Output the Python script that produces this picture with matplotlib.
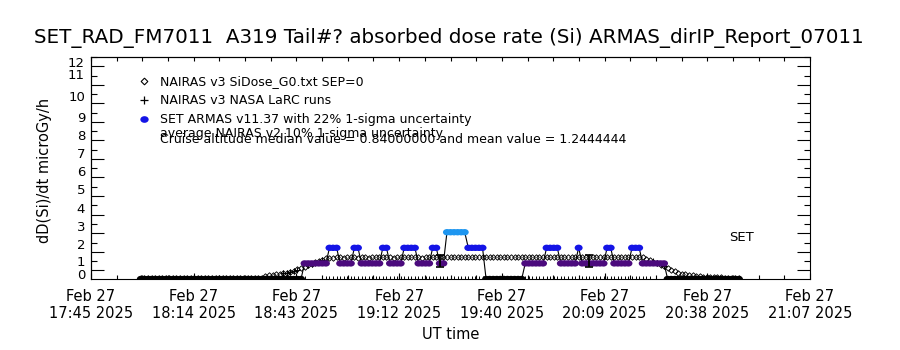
import numpy as np
import pandas as pd
import matplotlib
matplotlib.use("Agg")
import matplotlib.pyplot as plt
import matplotlib.dates as mdates
from matplotlib.path import Path
from matplotlib.transforms import Affine2D
from matplotlib.lines import Line2D
from matplotlib.ticker import NullFormatter

# ---------------- data ----------------
start_time = "2025-02-27 17:59"          # first 1-minute sample

# SET ARMAS dose rate, one value per minute
armas_dose = ([0.0] * 46 + [0.84] * 7 + [1.68] * 3 + [0.84] * 4 + [1.68] * 2 +
              [0.84] * 6 + [1.68] * 2 + [0.84] * 4 + [1.68] * 4 + [0.84] * 4 +
              [1.68] * 2 + [0.84] * 2 + [2.52] * 6 + [1.68] * 5 + [0.0] * 11 +
              [0.84] * 6 + [1.68] * 4 + [0.84] * 5 + [1.68] * 1 + [0.84] * 7 +
              [1.68] * 2 + [0.84] * 5 + [1.68] * 3 + [0.84] * 7 + [0.0] * 21)

# NAIRAS v3 SiDose_G0 model, one value per minute
nairas_dose = ([0.03] * 34 +
               [0.08, 0.14, 0.2, 0.23, 0.26, 0.28, 0.3, 0.34, 0.38, 0.45,
                0.52, 0.6, 0.67, 0.74, 0.82, 0.89, 0.97, 1.05, 1.12, 1.15] +
               [1.15, 1.16, 1.16, 1.15, 1.16, 1.16, 1.16, 1.15, 1.16, 1.16, 1.15, 1.16] +
               [1.16, 1.16, 1.17, 1.16, 1.16, 1.15, 1.16, 1.16, 1.16, 1.17,
                1.16, 1.16, 1.16, 1.15, 1.16, 1.16, 1.17, 1.16, 1.16, 1.16] +
               [1.17, 1.17, 1.18, 1.17, 1.18, 1.18, 1.17, 1.18, 1.18, 1.18,
                1.19, 1.18, 1.18, 1.19, 1.18, 1.19, 1.19, 1.18, 1.19, 1.19] +
               [1.19, 1.19, 1.2, 1.19, 1.2, 1.19, 1.2, 1.2, 1.19, 1.2,
                1.2, 1.2, 1.19, 1.2, 1.2, 1.2, 1.21, 1.2, 1.2, 1.2] +
               [1.2, 1.21, 1.2, 1.21, 1.21, 1.2, 1.21, 1.21, 1.21, 1.2,
                1.21, 1.21, 1.21, 1.2, 1.2, 1.18] +
               [1.1, 1.0, 0.93, 0.86, 0.78, 0.68, 0.58, 0.49, 0.41, 0.35,
                0.29, 0.25, 0.21, 0.19, 0.17, 0.15, 0.13, 0.12, 0.11, 0.1,
                0.09, 0.09, 0.08, 0.08, 0.07, 0.07, 0.06])

# NAIRAS v3 NASA LaRC runs, one value per minute
larc_dose = ([0.0] * 40 + [0.3, 0.34, 0.38, 0.45, 0.5] + [0.0] * 2 +
             [0.74, 0.8, 0.87, 0.93, 1.0] + [0.0] * 92 +
             [0.95, 0.88, 0.8, 0.72] + [0.0] * 21)

# average NAIRAS v2 uncertainty bars
errbar_times = ["2025-02-27 19:23", "2025-02-27 20:05"]
errbar_value = [0.96, 0.96]
errbar_sigma = [0.34, 0.34]

x_tick_times = ["2025-02-27 17:45:00", "2025-02-27 18:13:51", "2025-02-27 18:42:43",
                "2025-02-27 19:11:34", "2025-02-27 19:40:26", "2025-02-27 20:09:17",
                "2025-02-27 20:38:09", "2025-02-27 21:07:00"]
x_tick_labels = ["Feb 27\n17:45 2025", "Feb 27\n18:14 2025", "Feb 27\n18:43 2025",
                 "Feb 27\n19:12 2025", "Feb 27\n19:40 2025", "Feb 27\n20:09 2025",
                 "Feb 27\n20:38 2025", "Feb 27\n21:07 2025"]
y_tick_labels = ["0", "1", "2", "3", "4", "5", "6", "7", "8", "9", "10", "11", "12"]
y_label_pos = [0.25, 0.98, 1.89, 2.85, 3.85, 4.83, 5.80, 6.77, 7.76, 8.75, 9.84, 11.05, 11.68]

title = ("SET_RAD_FM7011  A319 Tail#? absorbed dose rate (Si) "
         "ARMAS_dirIP_Report_07011")

# ---------------- styles ----------------
level_colors = {0.0: "black", 0.84: "#4b0a7d", 1.68: "#1414e6", 2.52: "#1e96f0"}
ellipse = Path.unit_circle().transformed(Affine2D().scale(1.0, 0.8))

plt.rcParams["font.family"] = ["DejaVu Sans"]

fig = plt.figure(figsize=(9, 3.5), dpi=100)
ax = fig.add_axes([91 / 900, 1 - 279 / 350, 719 / 900, 222 / 350])

times = pd.date_range(start_time, periods=len(armas_dose), freq="1min")
tnum = mdates.date2num(times.to_pydatetime())
armas = np.array(armas_dose)
colors = [level_colors[v] for v in armas_dose]

# ARMAS line + coloured markers
ax.plot(tnum, armas, color="black", lw=0.8, zorder=3)
ax.scatter(tnum, armas, c=colors, marker=ellipse, s=33, linewidths=0, zorder=4)

# NAIRAS diamonds
ax.plot(tnum, nairas_dose, ls="none", marker="D", ms=2.8, mfc="none",
        mec="black", mew=0.65, zorder=2)
# LaRC plus signs
ax.plot(tnum, larc_dose, ls="none", marker="+", ms=4.5, color="black",
        mew=0.7, zorder=2)

# error bars
et = mdates.date2num(pd.to_datetime(errbar_times).to_pydatetime())
ax.errorbar(et, errbar_value, yerr=errbar_sigma, fmt="none", ecolor="black",
            elinewidth=1.3, capsize=3, capthick=1.2, zorder=5)

# axes limits & ticks
xt = mdates.date2num(pd.to_datetime(x_tick_times).to_pydatetime())
ax.set_xlim(xt[0], xt[-1])
ax.set_ylim(0, 11.56)
ax.set_xticks(xt, x_tick_labels, fontsize=10.5)
minor_x = np.linspace(xt[0], xt[-1], 4 * (len(xt) - 1) + 1)
ax.set_xticks(minor_x, minor=True)
ax.tick_params(axis="x", which="major", direction="in", length=4.3, width=0.8,
               pad=7, top=False)
ax.tick_params(axis="x", which="minor", direction="in", length=2.9, width=0.8,
               top=False)

ax.set_yticks(np.arange(12) + 0.47)
ax.set_yticks(np.arange(12) + 0.96, minor=True)
ax.yaxis.set_major_formatter(NullFormatter())
ax.tick_params(axis="y", which="major", direction="in", length=9.4, width=0.8,
               left=True, right=True)
ax.tick_params(axis="y", which="minor", direction="in", length=4.3, width=0.8,
               left=True, right=True)

secy = ax.secondary_yaxis("left")
secy.set_yticks(y_label_pos, y_tick_labels, fontsize=9.5)
secy.tick_params(length=0, pad=4.3)

secx = ax.secondary_xaxis("top")
secx.set_xticks(minor_x)
secx.xaxis.set_major_formatter(NullFormatter())
secx.tick_params(direction="in", length=2.9, width=0.8)

for sp in ax.spines.values():
    sp.set_linewidth(0.8)

ax.set_ylabel("dD(Si)/dt microGy/h", fontsize=10.5)
ax.yaxis.set_label_coords(-0.054, 0.49)
ax.set_xlabel("UT time", fontsize=10.5)
ax.xaxis.set_label_coords(0.5, -0.215)

fig.text(0.4985, 1 - 38.5 / 350, title, ha="center", va="center", fontsize=14.3)

# legend
handles = [
    Line2D([], [], ls="none", marker="D", ms=3.4, mfc="none", mec="black", mew=0.8),
    Line2D([], [], ls="none", marker="+", ms=5.5, color="black", mew=0.9),
    Line2D([], [], ls="none", marker=ellipse, ms=6, mfc=level_colors[1.68], mew=0),
]
labels = ["NAIRAS v3 SiDose_G0.txt SEP=0", "NAIRAS v3 NASA LaRC runs",
          "SET ARMAS v11.37 with 22% 1-sigma uncertainty"]
ax.legend(handles, labels, loc="upper left", bbox_to_anchor=(0.0647, 0.918),
          frameon=False, fontsize=9, handlelength=1.0, handletextpad=0.8,
          labelspacing=0.47, borderpad=0, borderaxespad=0, numpoints=1)
ax.text(0.096, 0.640, "average NAIRAS v2 10% 1-sigma uncertainty",
        transform=ax.transAxes, fontsize=9, va="baseline", ha="left")
ax.text(0.096, 0.613,
        "Cruise altitude median value = 0.84000000 and mean value = 1.2444444",
        transform=ax.transAxes, fontsize=9, va="baseline", ha="left")
ax.text(0.905, 0.185, "SET", transform=ax.transAxes, fontsize=9.5,
        ha="center", va="center")

fig.savefig("out.png", dpi=100)
